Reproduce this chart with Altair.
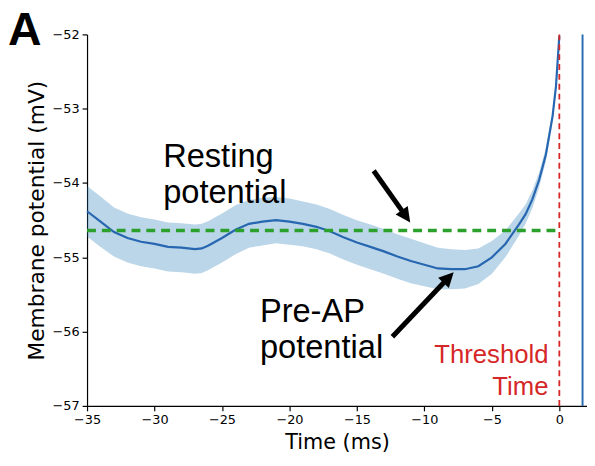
import math
import altair as alt
import pandas as pd

# ---------------- data ----------------
time_ms = [-35, -34, -33, -32, -31, -30, -29, -28, -27, -26.5, -26, -25, -24, -23,
           -22, -21, -20, -19, -18, -17, -16, -15, -14, -13, -12, -11, -10, -9,
           -8, -7, -6, -5, -4, -3, -2.5, -2, -1.5, -1, -0.5, -0.25, 0]
mean_mv = [-54.38, -54.52, -54.66, -54.74, -54.79, -54.82, -54.86, -54.87, -54.89,
           -54.88, -54.84, -54.74, -54.63, -54.55, -54.52, -54.50, -54.52, -54.55,
           -54.59, -54.65, -54.73, -54.80, -54.86, -54.92, -54.99, -55.05, -55.10,
           -55.15, -55.16, -55.16, -55.12, -55.00, -54.82, -54.56, -54.42, -54.22,
           -53.96, -53.62, -53.10, -52.70, -52.02]
spread_mv = [0.34, 0.34, 0.33, 0.33, 0.33, 0.33, 0.33, 0.33, 0.33, 0.33, 0.33, 0.33,
             0.33, 0.32, 0.32, 0.31, 0.31, 0.30, 0.30, 0.30, 0.30, 0.30, 0.30, 0.30,
             0.30, 0.30, 0.29, 0.28, 0.27, 0.26, 0.24, 0.22, 0.18, 0.15, 0.13, 0.12,
             0.10, 0.09, 0.07, 0.05, 0.04]

resting_mv = -54.64
resting_span = [-35, 0]
threshold_t = 0.0
spike_t = 1.72

x_domain = [-35, 2.05]
y_domain = [-57, -52]
x_ticks = [-35, -30, -25, -20, -15, -10, -5, 0]
y_ticks = [-57, -56, -55, -54, -53, -52]

arrow_tail_t = [-13.76, -12.37]
arrow_tail_v = [-53.835, -56.07]
arrow_tip_t = [-11.05, -7.83]
arrow_tip_v = [-54.53, -55.20]

label_lines = [["Resting", "potential"], ["Pre-AP", "potential"]]
label_t = [-29.36, -22.19]
label_v = [-53.782, -55.870]

thr_lines = ["Threshold", "Time"]
thr_t = -0.805
thr_v = -56.428

W, H = 506, 376
HEAD = 15  # arrowhead length in px

# ---------------- tables ----------------
df = pd.DataFrame({
    "t": time_ms,
    "v": mean_mv,
    "lo": [m - s for m, s in zip(mean_mv, spread_mv)],
    "hi": [m + s for m, s in zip(mean_mv, spread_mv)],
})

kx = W / (x_domain[1] - x_domain[0])
ky = H / (y_domain[1] - y_domain[0])
rows = []
for tt, tv, ht, hv in zip(arrow_tail_t, arrow_tail_v, arrow_tip_t, arrow_tip_v):
    dx = (ht - tt) * kx
    dy = -(hv - tv) * ky
    L = math.hypot(dx, dy)
    ux, uy = dx / L, dy / L
    ang = math.degrees(math.atan2(dx, -dy)) % 360
    back = HEAD - 2
    st = ht - ux * back / kx
    sv = hv + uy * back / ky
    rows.append({"t0": tt, "v0": tv, "t1": st, "v1": sv, "ht": ht, "hv": hv, "ang": ang})
arrows = pd.DataFrame(rows)

labels = pd.DataFrame({"t": label_t, "v": label_v, "txt": label_lines})

xs = alt.Scale(domain=x_domain, nice=False, zero=False)
ys = alt.Scale(domain=y_domain, nice=False, zero=False)

x_axis = alt.Axis(values=x_ticks, title="Time (ms)", grid=False, tickSize=5,
                  labelPadding=3, titlePadding=5, format="d", labelFlush=False,
                  titleFontSize=21)
y_axis = alt.Axis(values=y_ticks, title="Membrane potential (mV)", grid=False,
                  tickSize=5, labelPadding=3, titlePadding=4, format="d",
                  labelFlush=False, titleFontSize=22)

base = alt.Chart(df)

band = base.mark_area(color="#1f77b4", opacity=0.3).encode(
    x=alt.X("t:Q", scale=xs, axis=x_axis),
    y=alt.Y("lo:Q", scale=ys, axis=y_axis),
    y2="hi:Q",
)
line = base.mark_line(color="#2766b0", strokeWidth=2.2).encode(
    x=alt.X("t:Q", scale=xs), y=alt.Y("v:Q", scale=ys)
)

rest = alt.Chart(pd.DataFrame({"a": [resting_span[0]], "b": [resting_span[1]], "v": [resting_mv]})).mark_rule(
    color="#2ca02c", strokeWidth=3.5, strokeDash=[9, 6]
).encode(x=alt.X("a:Q", scale=xs), x2="b:Q", y=alt.Y("v:Q", scale=ys))

thr = alt.Chart(pd.DataFrame({"t": [threshold_t], "a": [y_domain[0]], "b": [y_domain[1]]})).mark_rule(
    color="#d62728", strokeWidth=1.8, strokeDash=[6, 4]
).encode(x=alt.X("t:Q", scale=xs), y=alt.Y("a:Q", scale=ys), y2="b:Q")

spike = alt.Chart(pd.DataFrame({"t": [spike_t], "a": [y_domain[0]], "b": [y_domain[1]]})).mark_rule(
    color="#2b6cb3", strokeWidth=2
).encode(x=alt.X("t:Q", scale=xs), y=alt.Y("a:Q", scale=ys), y2="b:Q")

shaft = alt.Chart(arrows).mark_rule(color="black", strokeWidth=5, strokeCap="butt").encode(
    x=alt.X("t0:Q", scale=xs), y=alt.Y("v0:Q", scale=ys), x2="t1:Q", y2="v1:Q"
)
head = alt.Chart(arrows).mark_point(
    shape="M0,0L0.5,1L-0.5,1Z", filled=True, color="black", opacity=1,
    size=(2 * HEAD) ** 2, strokeWidth=0
).encode(
    x=alt.X("ht:Q", scale=xs), y=alt.Y("hv:Q", scale=ys),
    angle=alt.Angle("ang:Q", scale=None),
)

txt = alt.Chart(labels).mark_text(
    font="Liberation Sans", fontSize=33, align="left", baseline="alphabetic",
    lineHeight=37, color="black"
).encode(x=alt.X("t:Q", scale=xs), y=alt.Y("v:Q", scale=ys), text="txt")

thr_txt = alt.Chart(pd.DataFrame({"t": [thr_t], "v": [thr_v], "txt": [thr_lines]})).mark_text(
    font="Liberation Sans", fontSize=26, align="right", baseline="alphabetic",
    lineHeight=32, color="#d62728"
).encode(x=alt.X("t:Q", scale=xs), y=alt.Y("v:Q", scale=ys), text="txt")

panel = alt.Chart(pd.DataFrame({"txt": ["A"]})).mark_text(
    font="Liberation Sans", fontSize=47, fontWeight="bold", align="left",
    baseline="alphabetic", color="black"
).encode(x=alt.value(-80), y=alt.value(11), text="txt")

chart = alt.layer(band, line, rest, thr, spike, shaft, head, txt, thr_txt, panel).properties(
    width=W, height=H,
    autosize=alt.AutoSizeParams(type="none"),
    padding={"left": 80, "top": 24, "right": 0, "bottom": 50},
).configure_view(stroke=None).configure_axis(
    labelFont="DejaVu Sans", labelFontSize=13, labelColor="black",
    titleFont="DejaVu Sans", titleFontWeight="normal", titleColor="black",
    domainColor="black", domainWidth=1.2, tickColor="black", tickWidth=1.2,
)

chart.save("out.html", embed_options={"renderer": "svg", "actions": False})
